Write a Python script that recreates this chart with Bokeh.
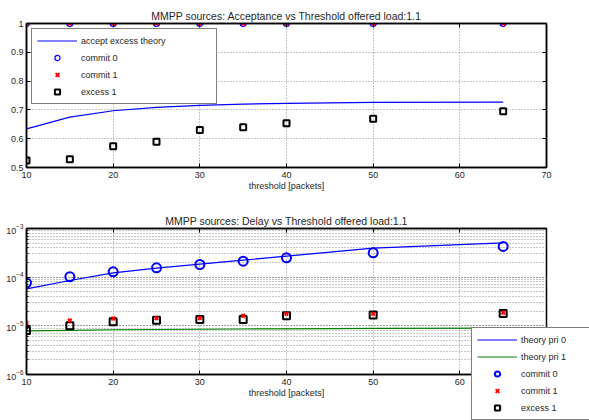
from bokeh.plotting import figure
from bokeh.layouts import column
from bokeh.models import (Legend, LegendItem, NumeralTickFormatter, Range1d,
                          LogTicker, FixedTicker, LinearAxis,
                          CustomJSTickFormatter)
from bokeh.embed import file_html
from bokeh.resources import INLINE

# ---------------- data ----------------
thresholds = [10, 15, 20, 25, 30, 35, 40, 50, 65]

accept_theory = [0.634, 0.675, 0.697, 0.709, 0.716, 0.720, 0.723, 0.726, 0.727]
accept_commit0 = [1.0, 1.0, 1.0, 1.0, 1.0, 1.0, 1.0, 1.0, 1.0]
accept_commit1 = [1.0, 1.0, 1.0, 1.0, 1.0, 1.0, 1.0, 1.0, 1.0]
accept_excess1 = [0.524, 0.529, 0.574, 0.589, 0.630, 0.640, 0.654, 0.669, 0.695]

delay_theory0 = [5.76e-5, 8.54e-5, 1.228e-4, 1.531e-4, 1.849e-4, 2.234e-4, 2.70e-4, 3.94e-4, 5.07e-4]
delay_theory1 = [7.9e-6, 8.1e-6, 8.3e-6, 8.4e-6, 8.5e-6, 8.6e-6, 8.7e-6, 8.85e-6, 9.0e-6]
delay_commit0 = [7.67e-5, 1.02e-4, 1.29e-4, 1.56e-4, 1.82e-4, 2.13e-4, 2.50e-4, 3.17e-4, 4.27e-4]
delay_commit1 = [1.14e-5, 1.29e-5, 1.42e-5, 1.43e-5, 1.45e-5, 1.61e-5, 1.77e-5, 1.76e-5, 1.85e-5]
delay_excess1 = [8.05e-6, 1.0e-5, 1.21e-5, 1.31e-5, 1.35e-5, 1.35e-5, 1.61e-5, 1.66e-5, 1.80e-5]

x_ticks = [10, 20, 30, 40, 50, 60, 70]
acc_ticks = [0.5, 0.6, 0.7, 0.8, 0.9, 1.0]

FONT = "Liberation Sans"
TXT = "#262626"
BLUE = "#0000ff"
RED = "#ff0000"
GREEN = "#008000"
GRID = "#8c8c8c"


def mirror_axis(ax):
    # tick marks only (MATLAB-style box ticks on top / right)
    ax.formatter = CustomJSTickFormatter(code="return ''")
    ax.major_label_text_font_size = "1px"
    ax.major_label_standoff = 0
    ax.axis_line_color = "black"
    ax.axis_line_width = 1.5
    ax.major_tick_in = 4
    ax.major_tick_out = 0
    ax.major_tick_line_color = "black"
    ax.minor_tick_line_color = None
    return ax


def style(p):
    p.title.text_font = FONT
    p.title.text_font_size = "10.5px"
    p.title.text_font_style = "normal"
    p.title.text_color = TXT
    p.title.align = "center"
    p.title.standoff = 4
    p.outline_line_color = "black"
    p.outline_line_width = 1.5
    p.outline_line_alpha = 1.0
    for ax in p.axis:
        ax.axis_line_color = "black"
        ax.axis_line_width = 1.5
        ax.major_tick_in = 4
        ax.major_tick_out = 0
        ax.major_tick_line_color = "black"
        ax.minor_tick_line_color = None
        ax.major_label_text_font = FONT
        ax.major_label_text_font_size = "9px"
        ax.major_label_text_color = TXT
        ax.major_label_standoff = 4
        ax.axis_label_text_font = FONT
        ax.axis_label_text_font_size = "9px"
        ax.axis_label_text_font_style = "normal"
        ax.axis_label_text_color = TXT
        ax.axis_label_standoff = 0
    for ax in p.yaxis:
        ax.major_label_standoff = 3
    for g in p.grid:
        g.grid_line_color = GRID
        g.grid_line_dash = "1 2"
        g.grid_line_width = 1
    p.background_fill_color = "white"
    p.border_fill_color = "white"


def legend_style():
    return dict(label_text_font=FONT, label_text_font_size="9px",
                label_text_color=TXT, border_line_color="black",
                border_line_width=1.5, background_fill_color="white",
                background_fill_alpha=1.0, glyph_width=40, label_standoff=4,
                padding=5, spacing=4, label_height=13, glyph_height=13)


# ---------------- top plot ----------------
p1 = figure(frame_width=520, frame_height=144,
            x_range=Range1d(10, 70), y_range=Range1d(0.5, 1.0),
            title="MMPP sources: Acceptance vs Threshold offered load:1.1",
            output_backend="svg", toolbar_location=None,
            min_border_left=26, min_border_right=43, min_border_top=23, min_border_bottom=33)
style(p1)
p1.xaxis.ticker = FixedTicker(ticks=x_ticks)
p1.yaxis.ticker = FixedTicker(ticks=acc_ticks)
p1.yaxis.formatter = NumeralTickFormatter(format="0.[0]")
p1.xaxis.axis_label = "threshold [packets]"
p1.add_layout(mirror_axis(LinearAxis(ticker=FixedTicker(ticks=x_ticks))), "above")
p1.add_layout(mirror_axis(LinearAxis(ticker=FixedTicker(ticks=acc_ticks))), "right")

r_th = p1.line(thresholds, accept_theory, line_color=BLUE, line_width=1.2)
r_c0 = p1.scatter(thresholds, accept_commit0, marker="circle", size=6,
                  fill_color=None, line_color=BLUE, line_width=1.2)
r_c1 = p1.scatter(thresholds, accept_commit1, marker="x", size=5,
                  line_color=RED, line_width=2)
r_e1 = p1.scatter(thresholds, accept_excess1, marker="square", size=6,
                  fill_color=None, line_color="black", line_width=2)

leg1 = Legend(items=[LegendItem(label="accept excess theory", renderers=[r_th]),
                     LegendItem(label="commit 0", renderers=[r_c0]),
                     LegendItem(label="commit 1", renderers=[r_c1]),
                     LegendItem(label="excess 1", renderers=[r_e1])],
              location="top_left", margin=5, label_width=130, **legend_style())
p1.add_layout(leg1)

# ---------------- bottom plot ----------------
p2 = figure(frame_width=520, frame_height=146, y_axis_type="log",
            x_range=Range1d(10, 70), y_range=Range1d(1e-6, 1e-3),
            title="MMPP sources: Delay vs Threshold offered load:1.1",
            output_backend="svg", toolbar_location=None,
            min_border_left=26, min_border_right=43, min_border_top=28, min_border_bottom=46)
style(p2)
p2.xaxis.ticker = FixedTicker(ticks=x_ticks)
p2.yaxis.ticker = LogTicker(num_minor_ticks=10, mantissas=[1], desired_num_ticks=4)
p2.yaxis.minor_tick_line_color = "black"
p2.yaxis.minor_tick_in = 2
p2.yaxis.minor_tick_out = 0
p2.ygrid.minor_grid_line_color = GRID
p2.ygrid.minor_grid_line_dash = "1 2"
p2.xaxis.axis_label = "threshold [packets]"
p2.add_layout(mirror_axis(LinearAxis(ticker=FixedTicker(ticks=x_ticks))), "above")

q_t0 = p2.line(thresholds, delay_theory0, line_color=BLUE, line_width=1.2)
q_t1 = p2.line(thresholds, delay_theory1, line_color=GREEN, line_width=1.2)
q_c0 = p2.scatter(thresholds, delay_commit0, marker="circle", size=9,
                  fill_color=None, line_color=BLUE, line_width=2)
q_e1 = p2.scatter(thresholds, delay_excess1, marker="square", size=7,
                  fill_color=None, line_color="black", line_width=2)
q_c1 = p2.scatter(thresholds, delay_commit1, marker="x", size=5,
                  line_color=RED, line_width=2)

# legend sits in the right side panel (so it is not clipped to the frame)
# and is shifted back over the lower right corner of the plot
leg2 = Legend(items=[LegendItem(label="theory pri 0", renderers=[q_t0]),
                     LegendItem(label="theory pri 1", renderers=[q_t1]),
                     LegendItem(label="commit 0", renderers=[q_c0]),
                     LegendItem(label="commit 1", renderers=[q_c1]),
                     LegendItem(label="excess 1", renderers=[q_e1])],
              location=(-75, -46), margin=-46, label_width=75, **legend_style())
p2.add_layout(leg2, "right")

layout = column(p1, p2, spacing=0)
open("out.html", "w").write(file_html(layout, INLINE))
